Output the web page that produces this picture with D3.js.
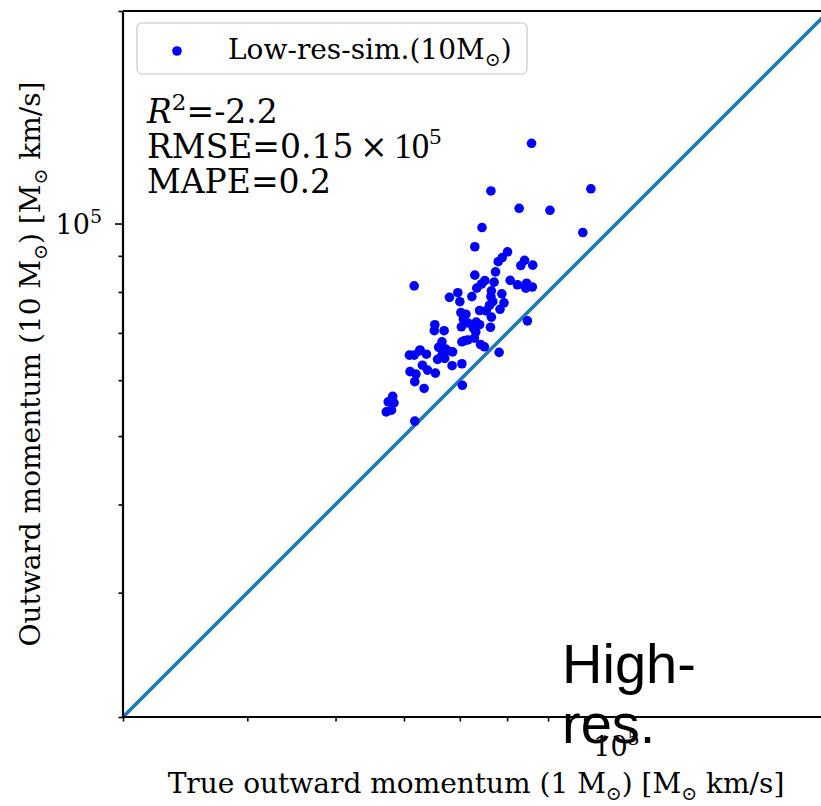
<!DOCTYPE html>
<html>
<head>
<meta charset="utf-8">
<script src="https://d3js.org/d3.v7.min.js"></script>
<style>
  body { margin: 0; background: #fff; }
  svg { display: block; }
</style>
</head>
<body>
<svg width="821" height="806"></svg>
<script>
// true momentum (1 Msun run), x axis
var trueMom = [75800, 66400, 92000, 72800, 80500, 89600, 64500, 63000, 70100, 68900,
  68000, 74100, 73200, 76100, 67400, 63000, 70700, 72400, 74600, 76000,
  74400, 67100, 65100, 64400, 63400, 51700, 66500, 58000, 59600, 60000,
  62400, 66400, 68800, 66800, 69300, 66100, 68400, 64000, 65400, 60200,
  61200, 66500, 60700, 74800, 55300, 61600, 63300, 64000, 60300, 62700,
  66300, 55200, 57000, 63200, 61000, 60400, 62900, 64200, 65000, 68200,
  56600, 56000, 57300, 58600, 56600, 55800, 57100, 52700, 50900, 51700,
  53800, 53100, 54000, 55400, 58500, 60400, 51000, 52000, 51800, 53400,
  60500, 48200, 47500, 48400, 47200, 48000, 51800, 52600, 57700, 61600];
// low-res (10 Msun) momentum, y axis
var lowResMom = [129900, 111200, 112000, 105100, 104400, 97100, 98700, 92700, 91200, 89500,
  88300, 88700, 87200, 87300, 85400, 84500, 83100, 81900, 82300, 81300,
  81000, 82600, 83000, 82100, 81000, 81600, 80300, 78600, 79800, 77500,
  78800, 78800, 79500, 77500, 77200, 76600, 75600, 75300, 75200, 74800,
  74400, 73700, 73200, 72800, 71900, 72300, 72500, 71900, 71400, 71100,
  71300, 70500, 70500, 70200, 68300, 68000, 68800, 67400, 66900, 65700,
  68000, 66800, 66400, 65800, 65100, 64200, 64400, 66200, 65100, 65100,
  65300, 63000, 62000, 61400, 62900, 63300, 61700, 61200, 59700, 58400,
  59000, 56900, 55900, 55700, 54100, 54400, 52500, 66000, 66000, 68400];

var axisDomain = [2e4, 2e5];
var majorTicks = [1e5];
var minorTicks = [2e4, 3e4, 4e4, 5e4, 6e4, 7e4, 8e4, 9e4, 2e5];

var svg = d3.select('svg');
var padL = 123, padT = 11, side = 706;

var x = d3.scaleLog().domain(axisDomain).range([padL, padL + side]);
var y = d3.scaleLog().domain(axisDomain).range([padT + side, padT]);

var serif = "'DejaVu Serif', serif";

// one-to-one line
svg.append('line')
  .attr('x1', x(axisDomain[0])).attr('y1', y(axisDomain[0]))
  .attr('x2', x(axisDomain[1])).attr('y2', y(axisDomain[1]))
  .attr('stroke', '#1f77b4').attr('stroke-width', 3.5);

// points
svg.append('g').selectAll('circle')
  .data(trueMom)
  .join('circle')
  .attr('cx', function(d) { return x(d); })
  .attr('cy', function(d, i) { return y(lowResMom[i]); })
  .attr('r', 4.8)
  .attr('fill', '#0000ff');

// axes: minor ticks, then major ticks
var gx = svg.append('g').attr('transform', 'translate(0,' + (padT + side) + ')');
gx.call(d3.axisBottom(x).tickValues(minorTicks).tickSize(4.5).tickFormat(''));
var gx2 = svg.append('g').attr('transform', 'translate(0,' + (padT + side) + ')');
gx2.call(d3.axisBottom(x).tickValues(majorTicks).tickSize(8).tickFormat(''));
var gy = svg.append('g').attr('transform', 'translate(' + padL + ',0)');
gy.call(d3.axisLeft(y).tickValues(minorTicks).tickSize(4.5).tickFormat(''));
var gy2 = svg.append('g').attr('transform', 'translate(' + padL + ',0)');
gy2.call(d3.axisLeft(y).tickValues(majorTicks).tickSize(8).tickFormat(''));
svg.selectAll('.domain').remove();
svg.selectAll('.tick line').attr('stroke', '#000').attr('stroke-width', 1.6);

// spines
svg.append('line').attr('x1', padL).attr('x2', padL).attr('y1', padT).attr('y2', padT + side)
  .attr('stroke', '#000').attr('stroke-width', 2.2);
svg.append('line').attr('x1', padL).attr('x2', padL + side).attr('y1', padT + side).attr('y2', padT + side)
  .attr('stroke', '#000').attr('stroke-width', 2.2);
svg.append('line').attr('x1', padL).attr('x2', padL + side).attr('y1', padT).attr('y2', padT)
  .attr('stroke', '#000').attr('stroke-width', 2.2);

function powLabel(sel, base, exp) {
  sel.append('tspan').text(base);
  sel.append('tspan').attr('dy', -11).attr('font-size', '19px').text(exp);
}

// tick labels
majorTicks.forEach(function(v) {
  var exp = Math.round(Math.log10(v));
  var tx = svg.append('text').attr('x', x(v)).attr('y', padT + side + 39)
    .attr('text-anchor', 'middle').attr('font-family', serif).attr('font-size', '27px');
  powLabel(tx, '10', exp);
  var ty = svg.append('text').attr('x', 102).attr('y', y(v) + 10)
    .attr('text-anchor', 'end').attr('font-family', serif).attr('font-size', '27px');
  powLabel(ty, '10', exp);
});

// labels with the solar symbol as subscript
function solarLabel(sel, parts) {
  var shift = 0;
  parts.forEach(function(p) {
    if (p === 'sun') {
      sel.append('tspan').attr('font-size', '0.68em').attr('dy', 7).text('\u2299');
      shift = -7;
    } else {
      sel.append('tspan').attr('dy', shift).text(p);
      shift = 0;
    }
  });
}
var xl = svg.append('text').attr('x', padL + side / 2).attr('y', 793)
  .attr('text-anchor', 'middle').attr('font-family', serif).attr('font-size', '28px');
solarLabel(xl, ['True outward momentum (1 M', 'sun', ') [M', 'sun', ' km/s]']);

var yl = svg.append('text').attr('transform', 'translate(40,' + (padT + side / 2) + ') rotate(-90)')
  .attr('text-anchor', 'middle').attr('font-family', serif).attr('font-size', '28px');
solarLabel(yl, ['Outward momentum (10 M', 'sun', ') [M', 'sun', ' km/s]']);

// legend
svg.append('rect').attr('x', 137).attr('y', 23).attr('width', 390).attr('height', 51).attr('rx', 5)
  .attr('fill', '#fff').attr('fill-opacity', 0.8).attr('stroke', '#d6d6d6').attr('stroke-width', 1.6);
svg.append('circle').attr('cx', 177).attr('cy', 51).attr('r', 4.8).attr('fill', '#0000ff');
var lg = svg.append('text').attr('x', 228).attr('y', 59).attr('font-family', serif).attr('font-size', '28px');
solarLabel(lg, ['Low-res-sim.(10M', 'sun', ')']);

// stats
var st = svg.append('g').attr('font-family', serif).attr('font-size', '33px').attr('fill', '#000');
var t1 = st.append('text').attr('x', 147).attr('y', 123);
t1.append('tspan').attr('font-style', 'italic').text('R');
t1.append('tspan').attr('dy', -13).attr('font-size', '23px').text('2');
t1.append('tspan').attr('dy', 13).text('=-2.2');
var t2 = st.append('text').attr('x', 147).attr('y', 158);
t2.append('tspan').text('RMSE=0.15');
t2.append('tspan').attr('font-size', '33px').text('\u2009\u00d7\u2009');
t2.append('tspan').attr('font-family', "'Liberation Serif', serif").attr('font-size', '35px').text('10');
t2.append('tspan').attr('dy', -14).attr('font-family', "'Liberation Serif', serif").attr('font-size', '24px').text('5');
st.append('text').attr('x', 147).attr('y', 193).text('MAPE=0.2');

// big overlay text
var hr = svg.append('text').attr('font-family', "'Liberation Sans', Arial, sans-serif")
  .attr('font-size', '56px').attr('fill', '#000');
hr.append('tspan').attr('x', 562).attr('y', 683).text('High-');
hr.append('tspan').attr('x', 562).attr('y', 743).text('res.');
</script>
</body>
</html>
